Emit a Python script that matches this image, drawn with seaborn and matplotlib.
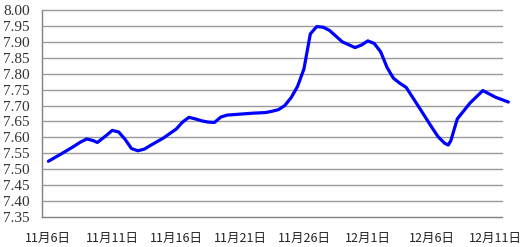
import numpy as np
import pandas as pd
import matplotlib
matplotlib.use("Agg")
import matplotlib.pyplot as plt
import seaborn as sns

times = ["2010-11-06 00:00", "2010-11-07 00:00", "2010-11-08 00:00", "2010-11-08 12:00",
         "2010-11-09 00:00", "2010-11-09 12:00", "2010-11-09 20:00", "2010-11-10 12:00",
         "2010-11-11 00:00", "2010-11-11 12:00", "2010-11-12 00:00", "2010-11-12 12:00",
         "2010-11-13 00:00", "2010-11-13 12:00", "2010-11-14 00:00", "2010-11-15 00:00",
         "2010-11-16 00:00", "2010-11-16 12:00", "2010-11-17 00:00", "2010-11-17 12:00",
         "2010-11-18 00:00", "2010-11-18 12:00", "2010-11-19 00:00", "2010-11-19 12:00",
         "2010-11-20 00:00", "2010-11-21 00:00", "2010-11-22 00:00", "2010-11-23 00:00",
         "2010-11-23 12:00", "2010-11-24 00:00", "2010-11-24 12:00", "2010-11-25 00:00",
         "2010-11-25 12:00", "2010-11-26 00:00", "2010-11-26 12:00", "2010-11-27 00:00",
         "2010-11-27 12:00", "2010-11-28 00:00", "2010-11-29 00:00", "2010-11-30 00:00",
         "2010-11-30 12:00", "2010-12-01 00:00", "2010-12-01 12:00", "2010-12-02 00:00",
         "2010-12-02 12:00", "2010-12-03 00:00", "2010-12-03 12:00", "2010-12-04 00:00",
         "2010-12-05 00:00", "2010-12-06 00:00", "2010-12-06 12:00", "2010-12-07 00:00",
         "2010-12-07 07:00", "2010-12-07 12:00", "2010-12-08 00:00", "2010-12-09 00:00",
         "2010-12-10 00:00", "2010-12-11 00:00", "2010-12-12 00:00"]
rates = [7.525, 7.548, 7.572, 7.585,
         7.595, 7.590, 7.584, 7.605,
         7.622, 7.617, 7.594, 7.565,
         7.558, 7.563, 7.575, 7.598,
         7.626, 7.648, 7.663, 7.658,
         7.652, 7.648, 7.647, 7.664,
         7.670, 7.673, 7.676, 7.678,
         7.682, 7.687, 7.700, 7.725,
         7.760, 7.815, 7.925, 7.948,
         7.946, 7.936, 7.900, 7.882,
         7.890, 7.903, 7.895, 7.869,
         7.820, 7.786, 7.770, 7.757,
         7.695, 7.632, 7.602, 7.582,
         7.576, 7.590, 7.658, 7.708,
         7.747, 7.726, 7.711]

tick_labels = ["11月6日", "11月11日", "11月16日", "11月21日",
               "11月26日", "12月1日", "12月6日", "12月11日"]
y_ticks = [7.35, 7.40, 7.45, 7.50, 7.55, 7.60, 7.65, 7.70,
           7.75, 7.80, 7.85, 7.90, 7.95, 8.00]

ts = pd.to_datetime(pd.Series(times))
df = pd.DataFrame({"day": (ts - ts.iloc[0]).dt.total_seconds() / 86400.0,
                   "rate": rates})

sns.set_theme(style="white")
plt.rcParams["font.family"] = ["Noto Sans CJK SC", "DejaVu Sans"]

fig = plt.figure(figsize=(5.29, 2.47), dpi=100)
ax = fig.add_axes([42 / 529, 30 / 247, 460 / 529, 207 / 247])

sns.lineplot(data=df, x="day", y="rate", ax=ax, color="#0000FF",
             linewidth=2.3, clip_on=False, zorder=5)

ax.set_xlim(-0.5, 35.5)
ax.set_ylim(7.35, 8.00)

# horizontal gridlines at every 0.05 (above the axis line)
for v in y_ticks[1:]:
    ax.axhline(v, color="#9a9a9a", linewidth=1.0, linestyle="-",
               zorder=3, clip_on=False)

ax.set_yticks(y_ticks)
ax.set_yticklabels([f"{v:.2f}" for v in y_ticks], family="Liberation Serif",
                   fontsize=11, color="#333333")
ax.tick_params(axis="y", direction="out", length=3, width=0.8,
               color="#808080", pad=6)

major = [0, 5, 10, 15, 20, 25, 30, 35]
ax.set_xticks(major)
ax.set_xticklabels(tick_labels, fontsize=9, color="#222222")
ax.set_xticks([-0.5 + 5 * k for k in range(8)], minor=True)
ax.tick_params(axis="x", which="major", length=0, pad=11)
ax.tick_params(axis="x", which="minor", direction="in", length=3,
               color="#808080", width=0.8)

for s in ["top", "right"]:
    ax.spines[s].set_visible(False)
for s in ["left", "bottom"]:
    ax.spines[s].set_color("#808080")
    ax.spines[s].set_linewidth(1.0)

ax.set_xlabel("")
ax.set_ylabel("")

fig.savefig("out.png", dpi=100)
